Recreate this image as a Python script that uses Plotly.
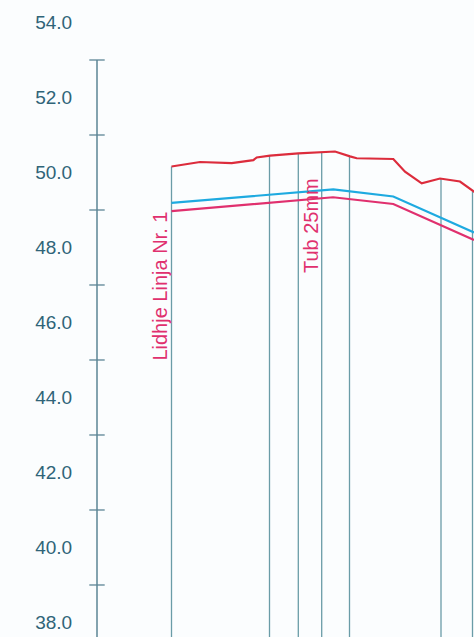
import plotly.graph_objects as go

# ---- data (chainage in m, elevations in m) ----
ground_x = [0, 5.7, 12.04, 16.36, 17.04, 19.7, 25.36, 30.04, 32.7, 35.7, 37.04, 44.36, 46.7, 50.04, 53.7, 57.7, 60.5, 60.9]
ground_y = [50.16, 50.28, 50.25, 50.33, 50.40, 50.45, 50.51, 50.54, 50.56, 50.43, 50.38, 50.36, 50.02, 49.71, 49.84, 49.76, 49.49, 49.45]

pipe_top_x = [0, 32.36, 44.36, 60.5]
pipe_top_y = [49.19, 49.55, 49.36, 48.40]

pipe_bot_x = [0, 32.3, 44.36, 60.5]
pipe_bot_y = [48.97, 49.34, 49.16, 48.20]

station_x = [0, 19.6, 25.36, 30.04, 35.6, 53.9, 60.2]
station_ground = [50.16, 50.45, 50.51, 50.54, 50.43, 49.83, 49.50]

label_ticks = [38, 40, 42, 44, 46, 48, 50, 52, 54]
mark_ticks = [39, 41, 43, 45, 47, 49, 51, 53]

labels = [
    {"text": "Lidhje Linja Nr. 1", "station": 0, "y": 46.97, "shift": -11},
    {"text": "Tub 25mm", "station": 30.04, "y": 48.59, "shift": -10},
]

# ---- styling ----
X_RANGE = [-34.3, 60.5]
Y_RANGE = [37.613, 54.6]
AXIS_X = -14.9
AXIS_TOP = 53
AXIS_COLOR = "#5b8595"
LABEL_COLOR = "#2f6478"
STATION_COLOR = "#6a9ca7"
RED = "#dc2c3c"
PINK = "#e0306e"
BLUE = "#1eaae0"
BG = "#fbfdfe"
FONT = "Liberation Sans, Arial, sans-serif"

fig = go.Figure()

# station verticals from ground down past bottom
sx, sy = [], []
for x, g in zip(station_x, station_ground):
    sx += [x, x, None]
    sy += [g, Y_RANGE[0] - 1, None]
fig.add_trace(go.Scatter(x=sx, y=sy, mode="lines",
                         line=dict(color=STATION_COLOR, width=1.3), hoverinfo="skip"))

fig.add_trace(go.Scatter(x=ground_x, y=ground_y, mode="lines",
                         line=dict(color=RED, width=2.2)))
fig.add_trace(go.Scatter(x=pipe_top_x, y=pipe_top_y, mode="lines",
                         line=dict(color=BLUE, width=2.2)))
fig.add_trace(go.Scatter(x=pipe_bot_x, y=pipe_bot_y, mode="lines",
                         line=dict(color=PINK, width=2.2)))

# custom axis line starting at 53 and crossing tick marks at odd values
fig.add_trace(go.Scatter(x=[AXIS_X, AXIS_X], y=[AXIS_TOP, Y_RANGE[0] - 1], mode="lines",
                         line=dict(color=AXIS_COLOR, width=1.5), hoverinfo="skip"))
fig.add_trace(go.Scatter(x=[AXIS_X] * len(mark_ticks), y=mark_ticks, mode="markers",
                         marker=dict(symbol="line-ew", size=11,
                                     line=dict(color=AXIS_COLOR, width=1.3)),
                         hoverinfo="skip"))

for lab in labels:
    fig.add_annotation(x=lab["station"], y=lab["y"], text=lab["text"], textangle=-90,
                       showarrow=False, xanchor="center", yanchor="middle",
                       xshift=lab["shift"], font=dict(family=FONT, size=20, color=PINK))

pos = (AXIS_X - X_RANGE[0]) / (X_RANGE[1] - X_RANGE[0])

fig.update_layout(
    width=474, height=637,
    margin=dict(l=0, r=0, t=0, b=0),
    paper_bgcolor=BG, plot_bgcolor=BG,
    showlegend=False,
    xaxis=dict(range=X_RANGE, visible=False, domain=[0, 1]),
    yaxis=dict(range=Y_RANGE, anchor="free", position=pos, side="left",
               tickvals=label_ticks, ticktext=[f"{v:.1f}" for v in label_ticks],
               ticks="outside", ticklen=21, tickcolor="rgba(0,0,0,0)",
               showline=False, showgrid=False, zeroline=False, automargin=False,
               tickfont=dict(family=FONT, size=19, color=LABEL_COLOR)),
)

fig.write_html("out.html", config={"displayModeBar": False},
               post_script="document.body.style.margin='0';document.body.style.overflow='hidden';")
